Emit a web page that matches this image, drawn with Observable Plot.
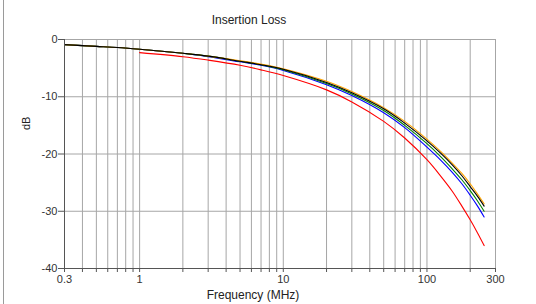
<!DOCTYPE html>
<html>
<head>
<meta charset="utf-8">
<script src="https://cdn.jsdelivr.net/npm/d3@7"></script>
<script src="https://cdn.jsdelivr.net/npm/@observablehq/plot@0.6"></script>
<style>
  html, body { margin: 0; padding: 0; background: #fff; }
  #wrap { position: relative; width: 536px; height: 304px; }
  #edge { position: absolute; left: 3px; top: 0; width: 1px; height: 304px; background: #9a9a9a; }
  svg { font-family: "Liberation Sans", Arial, sans-serif; }
</style>
</head>
<body>
<div id="wrap"><div id="edge"></div></div>
<script>
// Frequencies (MHz)
const freqs = [0.3, 0.5, 0.7, 1, 2, 3, 5, 7, 10, 20, 30, 50, 70, 100, 125, 150, 175, 200, 225, 250];
// Insertion loss (dB) per series
const orange = [-0.9, -1.2, -1.4, -1.7, -2.4, -2.9, -3.7, -4.3, -5.1, -7.3, -9.1, -11.9, -14.3, -17.4, -19.6, -21.6, -23.4, -25.2, -27.0, -28.7];
const black  = [-0.9, -1.2, -1.4, -1.7, -2.4, -2.9, -3.8, -4.4, -5.2, -7.5, -9.3, -12.1, -14.6, -17.7, -19.9, -21.9, -23.8, -25.7, -27.4, -29.1];
const green  = [-0.9, -1.2, -1.4, -1.7, -2.4, -2.9, -3.8, -4.4, -5.3, -7.7, -9.5, -12.4, -15.0, -18.2, -20.5, -22.6, -24.5, -26.4, -28.2, -30.0];
const blue   = [-0.9, -1.2, -1.4, -1.7, -2.4, -3.0, -3.9, -4.5, -5.4, -7.9, -9.8, -12.8, -15.4, -18.8, -21.1, -23.2, -25.2, -27.2, -29.1, -31.0];
const red    = [null, null, null, -2.3, -3.0, -3.6, -4.5, -5.3, -6.3, -8.8, -10.9, -14.3, -17.2, -21.0, -23.9, -26.5, -29.1, -31.5, -33.8, -36.0];

const seriesNames = ["red", "blue", "green", "orange", "black"];
const seriesValues = [red, blue, green, orange, black];
const seriesColors = ["#e04848", "#3a5cc4", "#45ad5c", "#f2a23a", "#3a2a22"];

// Axis ticks
const xTicks = [0.3, 0.4, 0.5, 0.6, 0.7, 0.8, 0.9, 1, 2, 3, 4, 5, 6, 7, 8, 9,
                10, 20, 30, 40, 50, 60, 70, 80, 90, 100, 200, 300];
const xLabels = [0.3, 1, 10, 100, 300];
const yTicks = [0, -10, -20, -30, -40];

const title = "Insertion Loss";
const xTitle = "Frequency (MHz)";
const yTitle = "dB";

const rows = [];
seriesNames.forEach((name, i) => {
  freqs.forEach((f, j) => {
    const v = seriesValues[i][j];
    if (v != null) rows.push({series: name, f, v});
  });
});

const chart = Plot.plot({
  width: 536,
  height: 304,
  marginLeft: 64,
  marginRight: 41,
  marginTop: 39,
  marginBottom: 36,
  style: {fontFamily: "'Liberation Sans', Arial, sans-serif", fontSize: "11px", color: "#333"},
  x: {type: "log", domain: [0.3, 300]},
  y: {domain: [-40, 0]},
  color: {domain: seriesNames, range: seriesColors},
  marks: [
    Plot.ruleX(xTicks.filter(d => d > 0.3), {x: d => d, stroke: "#a6a6a6", strokeWidth: 1}),
    Plot.ruleY(yTicks.filter(d => d > -40), {y: d => d, stroke: "#a6a6a6", strokeWidth: 1}),
    Plot.lineY(rows, {x: "f", y: "v", z: "series", stroke: "series", strokeWidth: 1.1, curve: "catmull-rom"}),
    Plot.ruleX([0.3], {stroke: "#555"}),
    Plot.ruleY([-40], {stroke: "#555"}),
    Plot.axisX({ticks: xTicks, tickFormat: d => xLabels.includes(d) ? String(d) : "", tickSize: 4, tickPadding: 3, label: null, stroke: "#555"}),
    Plot.axisY({ticks: yTicks, tickFormat: d => String(d), tickSize: 6, tickPadding: 1, label: null, stroke: "#555"}),
    Plot.text([title], {frameAnchor: "top", dx: -31, dy: -24, fontSize: 12, fill: "#222"}),
    Plot.text([xTitle], {frameAnchor: "bottom", dx: -27, dy: 30, fontSize: 12, fill: "#222"}),
    Plot.text([yTitle], {frameAnchor: "left", dx: -38, dy: -24, rotate: -90, fontSize: 11, fill: "#222"})
  ]
});
document.getElementById("wrap").appendChild(chart);
</script>
</body>
</html>
